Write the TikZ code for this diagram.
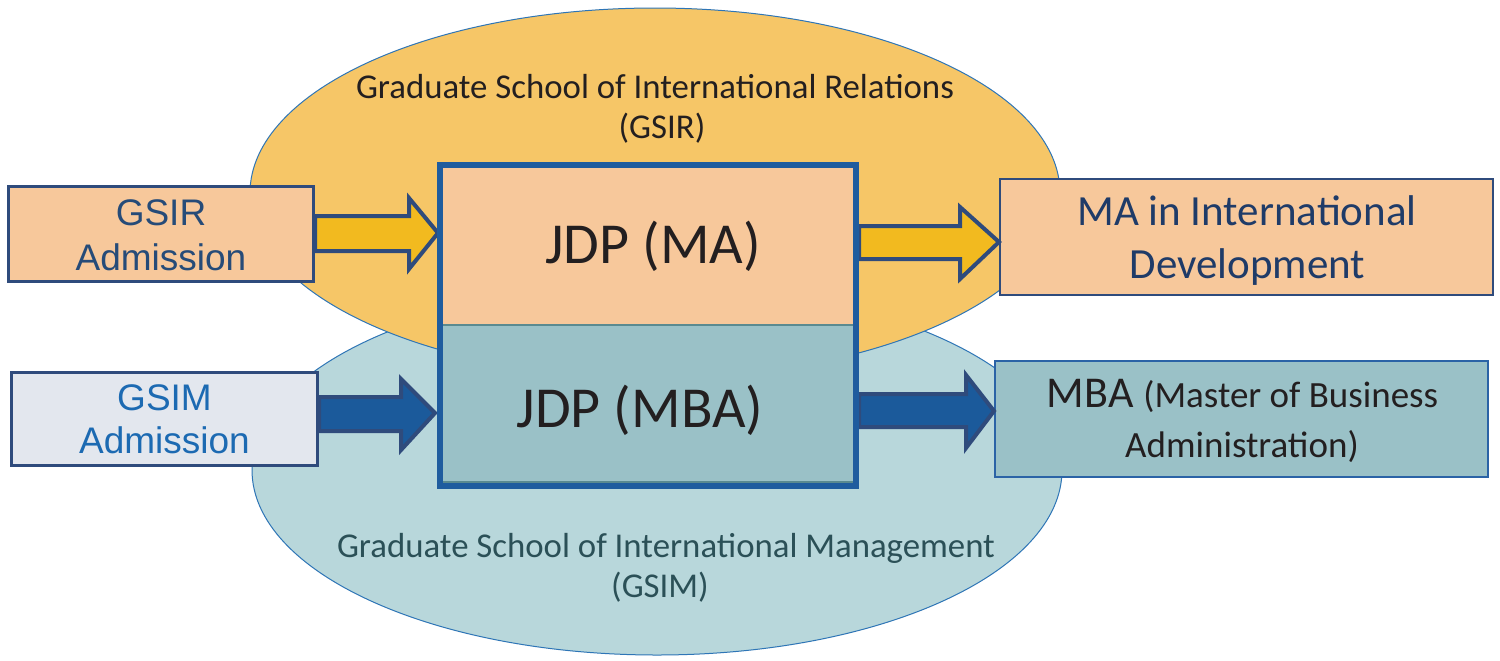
\documentclass[tikz,border=0pt]{standalone}
\usepackage{fontspec}
\setmainfont{Carlito}
\newfontfamily\arialf{Liberation Sans}
\definecolor{orangee}{HTML}{F6C667}
\definecolor{bluee}{HTML}{B8D7DB}
\definecolor{elline}{HTML}{2E75B6}
\definecolor{peach}{HTML}{F7C89B}
\definecolor{tealbox}{HTML}{9AC1C7}
\definecolor{greybox}{HTML}{E3E7EE}
\definecolor{navy}{HTML}{2F4B7C}
\definecolor{amber}{HTML}{F2BA1F}
\definecolor{arrblue}{HTML}{1B5A9B}
\definecolor{cborder}{HTML}{1F5C9E}
\definecolor{gsirtext}{HTML}{264B78}
\definecolor{gsimtext}{HTML}{1C6AB2}
\definecolor{matext}{HTML}{1F3B68}
\definecolor{gsimlabel}{HTML}{2B5057}
\definecolor{ink}{HTML}{231F20}
\definecolor{divline}{HTML}{5A8A90}
\definecolor{mbaborder}{HTML}{2B63A6}
\begin{document}
\begin{tikzpicture}[x=0.5pt,y=-0.5pt,
  txt/.style={inner sep=0pt, anchor=base},
  ellshape/.style={draw=elline, line width=0.5pt},
  admbox/.style={draw=navy, line width=1.5pt, inner sep=0pt},
  outbox/.style={line width=1pt, inner sep=0pt},
  blockarrow/.style={draw=navy, line width=2pt, line join=miter},
  adm/.style={txt, font=\arialf\fontsize{18.5pt}{22pt}\selectfont},
  jdp/.style={txt, font=\fontsize{29pt}{34pt}\selectfont, text=ink},
  lbl/.style={txt, font=\fontsize{17.4pt}{21pt}\selectfont},
  outtxt/.style={txt, font=\fontsize{21.5pt}{26pt}\selectfont}]
\useasboundingbox (0,0) rectangle (1500,660);
\fill[white] (0,0) rectangle (1500,660);
% ellipses
\draw[ellshape, fill=bluee] (657,470) ellipse [x radius=405, y radius=185];
\draw[ellshape, fill=orangee] (655,193) ellipse [x radius=405, y radius=185];
% ellipse labels
\node[lbl, text=ink] (gsirl1) at (655,98) {Graduate School of International Relations};
\node[lbl, text=ink] (gsirl2) at (662,138) {(GSIR)};
\node[lbl, text=gsimlabel] (gsiml1) at (666,557) {Graduate School of International Management};
\node[lbl, text=gsimlabel] (gsiml2) at (660,597) {(GSIM)};
% admission boxes
\node[admbox, fill=peach, minimum width=152.5pt, minimum height=47.5pt] (gsir) at (161,234) {};
\node[adm, text=gsirtext] (gsirt1) at (161,225) {GSIR};
\node[adm, text=gsirtext] (gsirt2) at (161,270) {Admission};
\node[admbox, fill=greybox, minimum width=153pt, minimum height=46.5pt] (gsim) at (164.5,419) {};
\node[adm, text=gsimtext] (gsimt1) at (164.5,410) {GSIM};
\node[adm, text=gsimtext] (gsimt2) at (164.5,453) {Admission};
% output boxes
\node[outbox, draw=navy, fill=peach, minimum width=246.5pt, minimum height=58pt] (ma) at (1246.5,237) {};
\node[outtxt, text=matext] (mat1) at (1247,225) {MA in International};
\node[outtxt, text=matext] (mat2) at (1247.5,278) {Development};
\node[outbox, draw=mbaborder, fill=tealbox, minimum width=246.5pt, minimum height=58pt] (mba) at (1241.5,419) {};
\node[txt, text=ink] (mbat1) at (1242.5,407) {\fontsize{22pt}{26pt}\selectfont MBA \fontsize{18.5pt}{22pt}\selectfont(Master of Business};
\node[txt, text=ink, font=\fontsize{18.5pt}{22pt}\selectfont] (mbat2) at (1242,457) {Administration)};
% block arrows
\draw[blockarrow, fill=amber] (gsir.east |- 0,216) -- (409,216) -- (409,198) -- (438,233) -- (409,269) -- (409,251) -- (gsir.east |- 0,251) -- cycle;
\draw[blockarrow, fill=arrblue] (gsim.east |- 0,397) -- (401,397) -- (401,379) -- (435,413) -- (401,450) -- (401,431) -- (gsim.east |- 0,431) -- cycle;
\draw[blockarrow, fill=amber] (859,226) -- (960,226) -- (960,207) -- (ma.west |- 0,242) -- (960,279) -- (960,259) -- (859,259) -- cycle;
\draw[blockarrow, fill=arrblue] (859,394) -- (966,394) -- (966,375) -- (mba.west |- 0,411) -- (966,448) -- (966,427) -- (859,427) -- cycle;
% central box
\fill[peach] (440,165) rectangle (856,325);
\fill[tealbox] (440,325) rectangle (856,486);
\draw[divline, line width=0.6pt] (440,325) -- (856,325);
\draw[divline, line width=0.6pt] (440,482) -- (856,482);
\node[draw=cborder, line width=3pt, inner sep=0pt, minimum width=208pt, minimum height=160.5pt] (jdp) at (648,325.5) {};
\node[jdp] (jdpma) at (653,263) {JDP (MA)};
\node[jdp] (jdpmba) at (640,427) {JDP (MBA)};
\end{tikzpicture}
\end{document}
